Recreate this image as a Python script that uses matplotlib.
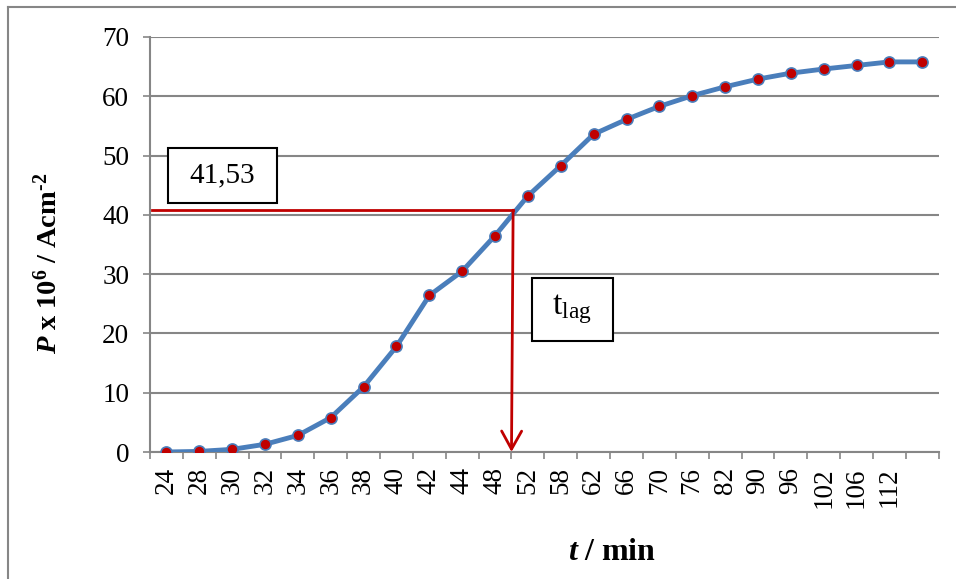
import matplotlib.pyplot as plt
from matplotlib.patches import Rectangle
from matplotlib.lines import Line2D

plt.rcParams['font.family'] = ['Liberation Serif', 'DejaVu Serif']
plt.rcParams['mathtext.fontset'] = 'custom'
plt.rcParams['mathtext.rm'] = 'Liberation Serif'
plt.rcParams['mathtext.it'] = 'Liberation Serif:italic'
plt.rcParams['mathtext.bf'] = 'Liberation Serif:bold'
plt.rcParams['mathtext.bfit'] = 'Liberation Serif:italic:bold'

# data
t_labels = ['24', '28', '30', '32', '34', '36', '38', '40', '42', '44', '48', '52',
            '58', '62', '66', '70', '76', '82', '90', '96', '102', '106', '112', '']
P_values = [0.0, 0.1, 0.45, 1.3, 2.8, 5.8, 11.0, 17.8, 26.4, 30.5, 36.5, 43.2,
            48.3, 53.6, 56.1, 58.3, 60.1, 61.6, 62.9, 63.9, 64.6, 65.2, 65.8, 65.8]
y_ticks = [0, 10, 20, 30, 40, 50, 60, 70]

# lag marker (category boundary between 48 and 52) and the level of the red line
t_lag_pos = 10.5
P_lag_line = 40.8
P_lag_text = '41,53'

grey = '#868686'
blue = '#4A7EBB'
red = '#C00000'

fig = plt.figure(figsize=(9.56, 5.79), dpi=100)
ax = fig.add_axes([150/956, 1-452/579, 788.7/956, 415/579])

x = list(range(len(P_values)))
ax.plot(x, P_values, color=blue, lw=3.5, marker='o', ms=8, mfc=red, mec=blue,
        mew=1.2, zorder=3)

ax.set_xlim(-0.5, len(P_values)-0.5)
ax.set_ylim(0, 70)
ax.set_yticks(y_ticks)
ax.set_xticks(x)
ax.set_xticklabels(t_labels, rotation=90, fontsize=19.5, va='top')
ax.set_xticks([i-0.5 for i in range(len(P_values)+1)], minor=True)
ax.tick_params(axis='x', which='major', length=0, pad=11)
ax.tick_params(axis='x', which='minor', length=5, width=1.2, color=grey)
ax.tick_params(axis='y', length=5, width=1.2, color=grey, pad=10, labelsize=19.5)

ax.grid(axis='y', color=grey, lw=1.5)
ax.set_axisbelow(True)
for s in ['top', 'right']:
    ax.spines[s].set_visible(False)
for s in ['left', 'bottom']:
    ax.spines[s].set_color(grey)
    ax.spines[s].set_linewidth(1.5)

# red lag lines
ax.plot([-0.45, t_lag_pos+0.05], [P_lag_line, P_lag_line], color=red, lw=2, zorder=4)
ax.annotate('', xy=(t_lag_pos, 0), xytext=(t_lag_pos+0.05, P_lag_line),
            arrowprops=dict(arrowstyle='->,head_length=0.65,head_width=0.36',
                            mutation_scale=20, color=red, lw=2,
                            shrinkA=0, shrinkB=0), zorder=4)

# text boxes (figure pixel positions)
def box(x0, y0, x1, y1, txt, size):
    fig.add_artist(Rectangle((x0/956, 1-y1/579), (x1-x0)/956, (y1-y0)/579,
                             transform=fig.transFigure, fc='white', ec='black',
                             lw=1.5, zorder=5))
    fig.text((x0+x1)/2/956, 1-(y0+y1)/2/579, txt, ha='center', va='center',
             fontsize=size, zorder=6)

box(167.5, 148, 276.5, 203, P_lag_text, 21)
box(532, 277.5, 612.5, 340.5, r'$\mathrm{t}_{\mathrm{lag}}$', 24)

# axis titles
fig.text(612/956, 1-553/579, r'$\mathbfit{t}\mathbf{\ /\ min}$', ha='center',
         va='center', fontsize=23)
fig.text(48/956, 1-263/579,
         r'$\mathbfit{P}\mathbf{\ x\ 10^{6}\ /\ Acm^{\text{-}2}}$',
         ha='center', va='center', rotation=90, fontsize=20.5)

# chart area border
fig.add_artist(Line2D([7.5/956, 7.5/956], [0, 1-7/579], color=grey, lw=1.5,
                      transform=fig.transFigure))
fig.add_artist(Line2D([7.5/956, 1], [1-7/579, 1-7/579], color=grey, lw=1.5,
                      transform=fig.transFigure))

fig.savefig('out.png', dpi=100)
